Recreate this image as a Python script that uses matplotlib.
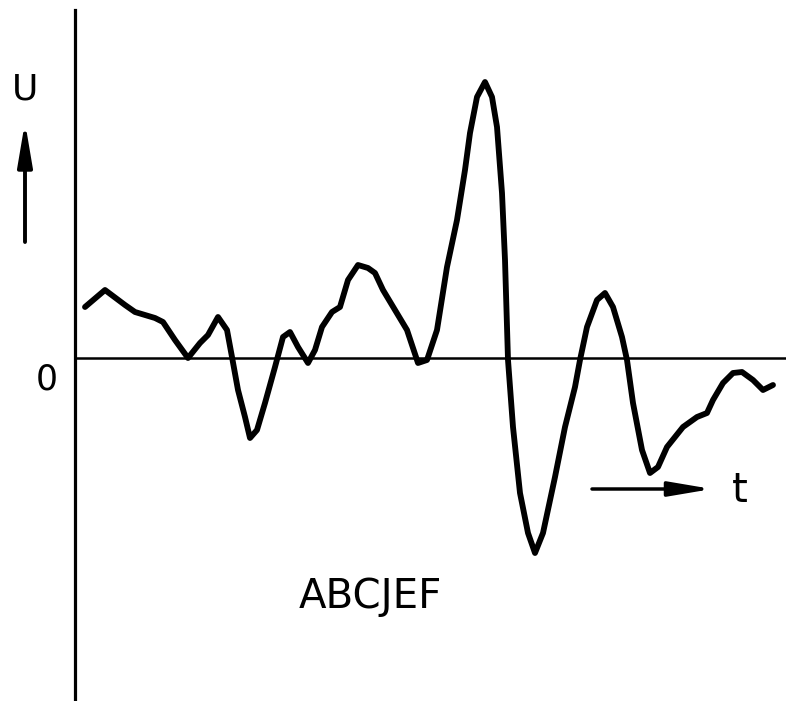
import matplotlib
matplotlib.use("Agg")
import matplotlib.pyplot as plt

# waveform samples (time in px-like units, amplitude relative to zero line)
t_vals = [85, 105, 125, 135, 155, 163, 175, 188, 200, 208,
          218, 227, 232, 238, 245, 250, 257, 265, 275, 283,
          290, 298, 308, 315, 322, 332, 340, 348, 358, 368,
          375, 383, 395, 407, 418, 427, 437, 447, 457, 465,
          470, 477, 485, 492, 497, 502, 505, 508, 513, 520,
          528, 535, 543, 555, 565, 575, 580, 587, 597, 605,
          613, 622, 627, 633, 642, 650, 658, 667, 683, 697,
          707, 713, 723, 733, 742, 753, 763, 773]
u_vals = [51, 68, 53, 46, 40, 36, 18, 0, 15, 23,
          41, 28, 1, -32, -59, -80, -72, -45, -9, 21,
          26, 11, -5, 8, 31, 46, 51, 78, 93, 90,
          85, 68, 48, 28, -5, -2, 28, 91, 138, 188,
          225, 261, 276, 261, 231, 165, 98, -2, -69, -135,
          -175, -195, -175, -119, -69, -29, -2, 31, 58, 65,
          51, 21, -2, -45, -92, -115, -109, -89, -69, -59,
          -55, -42, -25, -15, -14, -22, -32, -27]

y_label = "U"
x_label = "t"
zero_label = "0"
caption = "ABCJEF"

fig = plt.figure(figsize=(7.86, 7.01), dpi=100)
ax = fig.add_axes([0, 0, 1, 1])
ax.set_xlim(0, 786)
ax.set_ylim(-343, 358)
ax.axis("off")

# axes
ax.axvline(75, ymin=1/701, ymax=691/701, color="black", lw=2.3)
ax.axhline(0, xmin=75/786, xmax=1, color="black", lw=1.8)

# waveform
ax.plot(t_vals, u_vals, color="black", lw=4.2, solid_joinstyle="round",
        solid_capstyle="round")

# labels
ax.text(25, 268, y_label, fontsize=26, ha="center", va="center", family="DejaVu Sans")
ax.text(47, -22, zero_label, fontsize=25, ha="center", va="center", family="DejaVu Sans")
ax.text(740, -133, x_label, fontsize=29, ha="center", va="center", family="DejaVu Sans")
ax.text(370, -239, caption, fontsize=29, ha="center", va="center", family="DejaVu Sans")

arrow_style = "-|>,head_length=1.3,head_width=0.22"
ax.annotate("", xy=(25, 236), xytext=(25, 116),
            arrowprops=dict(arrowstyle=arrow_style, color="black", lw=2.8,
                            mutation_scale=20, shrinkA=0, shrinkB=0))
ax.annotate("", xy=(712, -131), xytext=(592, -131),
            arrowprops=dict(arrowstyle=arrow_style, color="black", lw=2.5,
                            mutation_scale=20, shrinkA=0, shrinkB=0))

fig.savefig("out.png", dpi=100, facecolor="white")
